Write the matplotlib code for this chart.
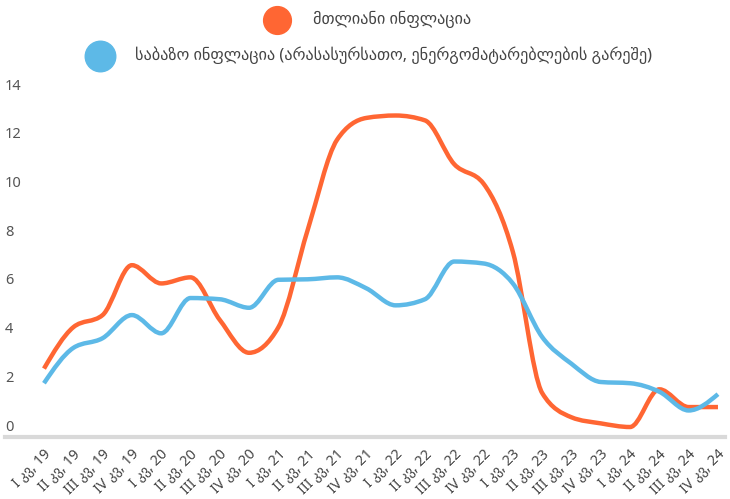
import numpy as np
import matplotlib.pyplot as plt
from matplotlib.path import Path
from matplotlib.patches import PathPatch
from matplotlib.lines import Line2D
from matplotlib.transforms import ScaledTranslation

plt.rcParams['font.family'] = ['Noto Sans', 'DejaVu Sans']

# quarters 2019 Q1 .. 2024 Q4
quarters = ['I', 'II', 'III', 'IV']
years = ['19', '20', '21', '22', '23', '24']
labels = [f'{q} კვ, {y}' for y in years for q in quarters]

headline = [2.4, 4.1, 4.6, 6.65, 5.9, 6.15, 4.4, 3.05, 4.1, 8.1, 11.8, 12.7,
            12.8, 12.6, 10.8, 10.0, 7.2, 1.4, 0.4, 0.15, 0.0, 1.55, 0.82, 0.82]
core = [1.8, 3.25, 3.65, 4.6, 3.85, 5.3, 5.25, 4.9, 6.05, 6.07, 6.15, 5.7,
        5.0, 5.25, 6.8, 6.72, 5.9, 3.7, 2.6, 1.85, 1.8, 1.45, 0.68, 1.35]

names = ['მთლიანი ინფლაცია',
         'საბაზო ინფლაცია (არასასურსათო, ენერგომატარებლების გარეშე)']
colors = ['#ff6633', '#5db9e7']
yticks = [0, 2, 4, 6, 8, 10, 12, 14]


def monotone_path(y):
    # monotone cubic (like d3 curveMonotoneX) as bezier segments
    y = np.asarray(y, dtype=float)
    x = np.arange(len(y), dtype=float)
    s = np.diff(y)
    t = np.zeros(len(y))
    for i in range(1, len(y) - 1):
        s0, s1 = s[i - 1], s[i]
        p = (s0 + s1) / 2
        t[i] = (np.sign(s0) + np.sign(s1)) * min(abs(s0), abs(s1), 0.5 * abs(p))
    t[0] = (3 * s[0] - t[1]) / 2
    t[-1] = (3 * s[-1] - t[-2]) / 2
    verts = [(x[0], y[0])]
    codes = [Path.MOVETO]
    for i in range(len(y) - 1):
        verts += [(x[i] + 1 / 3, y[i] + t[i] / 3),
                  (x[i + 1] - 1 / 3, y[i + 1] - t[i + 1] / 3),
                  (x[i + 1], y[i + 1])]
        codes += [Path.CURVE4] * 3
    return Path(verts, codes)


fig = plt.figure(figsize=(7.3, 4.99), dpi=100)
ax = fig.add_axes([5 / 730, 62 / 499, 720 / 730, (437 - 79) / 499])

for vals, c in [(headline, colors[0]), (core, colors[1])]:
    ax.add_patch(PathPatch(monotone_path(vals), fill=False, edgecolor=c,
                           lw=3.2, capstyle='butt', joinstyle='round'))

ax.set_xlim(-1.33, 23.24)
ax.set_ylim(-0.41, 14.3)
for sp in ax.spines.values():
    sp.set_visible(False)
ax.axhline(-0.41, color='#d9d9d9', lw=3, clip_on=False)

ax.set_yticks([])
for v in yticks:
    ax.text(0, v, str(v), transform=ax.get_yaxis_transform(), ha='left',
            va='center', fontsize=10.5, color='#555555')

ax.set_xticks(range(len(labels)))
ax.set_xticklabels(labels, rotation=45, ha='right', va='center',
                   rotation_mode='anchor', fontsize=10.3, color='#444444')
ax.tick_params(axis='x', length=0, pad=11)
off = ScaledTranslation(5 / 100, 0, fig.dpi_scale_trans)
for lab in ax.get_xticklabels():
    lab.set_transform(lab.get_transform() + off)

# legend
fig.add_artist(Line2D([277 / 730], [1 - 20 / 499], marker='o', markersize=20,
                      color=colors[0], transform=fig.transFigure))
fig.text(313 / 730, 1 - 19 / 499, names[0], ha='left', va='center',
         fontsize=11.7, color='#444444')
fig.add_artist(Line2D([100 / 730], [1 - 56 / 499], marker='o', markersize=22,
                      color=colors[1], transform=fig.transFigure))
fig.text(135 / 730, 1 - 55 / 499, names[1], ha='left', va='center',
         fontsize=11.7, color='#444444')

fig.savefig('out.png', dpi=100)
